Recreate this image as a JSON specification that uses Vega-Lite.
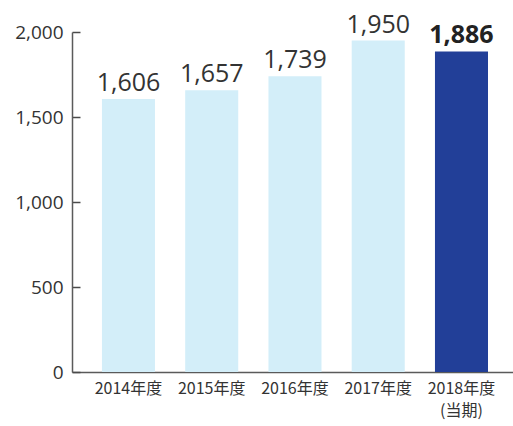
{
  "$schema": "https://vega.github.io/schema/vega-lite/v6.json",
  "width": 441,
  "height": 340,
  "autosize": {"type": "none"},
  "padding": {"left": 72, "top": 32, "right": 0, "bottom": 54},
  "background": "white",
  "data": {"values": [
    {"year": "2014年度", "value": 1606, "current": false},
    {"year": "2015年度", "value": 1657, "current": false},
    {"year": "2016年度", "value": 1739, "current": false},
    {"year": "2017年度", "value": 1950, "current": false},
    {"year": "2018年度", "value": 1886, "current": true}
  ]},
  "config": {
    "view": {"stroke": null},
    "font": "Noto Sans CJK JP"
  },
  "encoding": {
    "x": {
      "field": "year", "type": "nominal", "sort": null,
      "scale": {"paddingInner": 0.363, "paddingOuter": 0.33, "align": 0.545},
      "axis": {
        "title": null, "labelAngle": 0, "ticks": false,
        "domainColor": "#5a5a5a", "domainWidth": 1.5,
        "labelFont": "Noto Sans CJK JP", "labelFontSize": 16, "labelColor": "#333333",
        "labelPadding": 8, "labelLineHeight": 22,
        "labelExpr": "datum.value == '2018年度' ? ['2018年度', '(当期)'] : datum.value"
      }
    },
    "y": {
      "field": "value", "type": "quantitative",
      "scale": {"domain": [0, 2000], "nice": false},
      "axis": {
        "title": null, "values": [0, 500, 1000, 1500, 2000], "format": ",d",
        "grid": false, "ticks": true, "tickSize": -8, "tickColor": "#4a4a4a", "tickWidth": 1.5,
        "domainColor": "#5a5a5a", "domainWidth": 1.5,
        "labelFont": "Open Sans", "labelFontSize": 19, "labelColor": "#333333",
        "labelPadding": 17
      }
    }
  },
  "layer": [
    {
      "mark": {"type": "bar"},
      "encoding": {
        "color": {
          "field": "current", "type": "nominal",
          "scale": {"domain": [false, true], "range": ["#d3eef9", "#223f98"]},
          "legend": null
        }
      }
    },
    {
      "mark": {"type": "text", "baseline": "alphabetic", "dy": -8, "font": "Open Sans", "fontSize": 25, "color": "#333333"},
      "transform": [{"filter": "!datum.current"}],
      "encoding": {
        "text": {"field": "value", "type": "quantitative", "format": ",d"}
      }
    },
    {
      "mark": {"type": "text", "baseline": "alphabetic", "dy": -8, "font": "Open Sans", "fontSize": 25, "fontWeight": "bold", "color": "#222222"},
      "transform": [{"filter": "datum.current"}],
      "encoding": {
        "text": {"field": "value", "type": "quantitative", "format": ",d"}
      }
    }
  ]
}
